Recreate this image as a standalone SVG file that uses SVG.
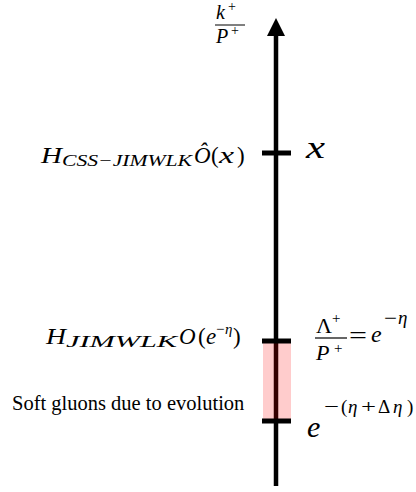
<svg xmlns="http://www.w3.org/2000/svg" width="416" height="492" viewBox="0 0 416 492">
<defs>
<style>
text{font-family:"Liberation Serif","Times New Roman",serif;fill:#000}
.m{font-style:italic}
.u{font-style:normal}
.tick{stroke:#000;stroke-width:5}
</style>
</defs>
<rect width="416" height="492" fill="#fff"/>
<g id="connectors">
<line x1="276" y1="486" x2="276" y2="35" stroke="#000" stroke-width="4.5"/>
<path d="M267,36 L276,18 L285,36 Z" fill="#000"/>
</g>
<g id="axis-label">
<text class="m" x="216" y="19" font-size="20">k</text>
<text class="u" x="228" y="11" font-size="14">+</text>
<line x1="215" y1="25" x2="245" y2="25" stroke="#000" stroke-width="1"/>
<text class="m" x="216" y="43" font-size="20">P</text>
<text class="u" x="231" y="35" font-size="14">+</text>
</g>
<g id="band">
<rect x="263" y="341" width="28" height="80" fill="#ff0000" fill-opacity="0.2"/>
</g>
<g id="tick-x">
<line class="tick" x1="262" y1="153" x2="291" y2="153"/>
<text class="m" x="306" y="158" font-size="31" textLength="19" lengthAdjust="spacingAndGlyphs">x</text>
<text class="m" x="41" y="163" font-size="23" textLength="21" lengthAdjust="spacingAndGlyphs">H</text>
<text class="m" x="62" y="166" font-size="16" textLength="130" lengthAdjust="spacingAndGlyphs">CSS−JIMWLK</text>
<text class="m" x="194" y="163" font-size="23">Ô</text>
<text class="u" x="211" y="163" font-size="23">(</text>
<text class="m" x="219" y="163" font-size="23" textLength="15" lengthAdjust="spacingAndGlyphs">x</text>
<text class="u" x="237" y="163" font-size="23">)</text>
</g>
<g id="tick-lambda">
<line class="tick" x1="262" y1="341" x2="291" y2="341"/>
<text class="u" x="316" y="333" font-size="22">Λ</text>
<text class="u" x="332" y="323" font-size="15">+</text>
<line x1="315" y1="338" x2="347" y2="338" stroke="#000" stroke-width="1.2"/>
<text class="m" x="316" y="360" font-size="22">P</text>
<text class="u" x="334" y="353" font-size="15">+</text>
<text class="u" x="349" y="344" font-size="26" textLength="18" lengthAdjust="spacingAndGlyphs">=</text>
<text class="m" x="371" y="342" font-size="24">e</text>
<text class="u" x="384" y="324" font-size="18" textLength="13" lengthAdjust="spacingAndGlyphs">−</text>
<text class="m" x="398" y="324" font-size="19">η</text>
<text class="m" x="46" y="344" font-size="23" textLength="20" lengthAdjust="spacingAndGlyphs">H</text>
<text class="m" x="66" y="347" font-size="16" textLength="111" lengthAdjust="spacingAndGlyphs">JIMWLK</text>
<text class="m" x="179" y="344" font-size="23">O</text>
<text class="u" x="198" y="344" font-size="23">(</text>
<text class="m" x="206" y="344" font-size="23">e</text>
<text class="u" x="216" y="334" font-size="15">−</text>
<text class="m" x="225" y="334" font-size="15">η</text>
<text class="u" x="233" y="344" font-size="23">)</text>
</g>
<g id="tick-evolution">
<line class="tick" x1="262" y1="421" x2="291" y2="421"/>
<text class="m" x="307" y="437" font-size="30">e</text>
<text class="u" x="324" y="413" font-size="19" textLength="15" lengthAdjust="spacingAndGlyphs">−</text>
<text class="u" x="341" y="413" font-size="19">(</text>
<text class="m" x="348" y="413" font-size="19">η</text>
<text class="u" x="361" y="413" font-size="19" textLength="15" lengthAdjust="spacingAndGlyphs">+</text>
<text class="u" x="378" y="413" font-size="19">Δ</text>
<text class="m" x="393" y="413" font-size="19">η</text>
<text class="u" x="407" y="413" font-size="19">)</text>
<text class="u" x="12" y="410" font-size="20.5">Soft gluons due to evolution</text>
</g>
</svg>
